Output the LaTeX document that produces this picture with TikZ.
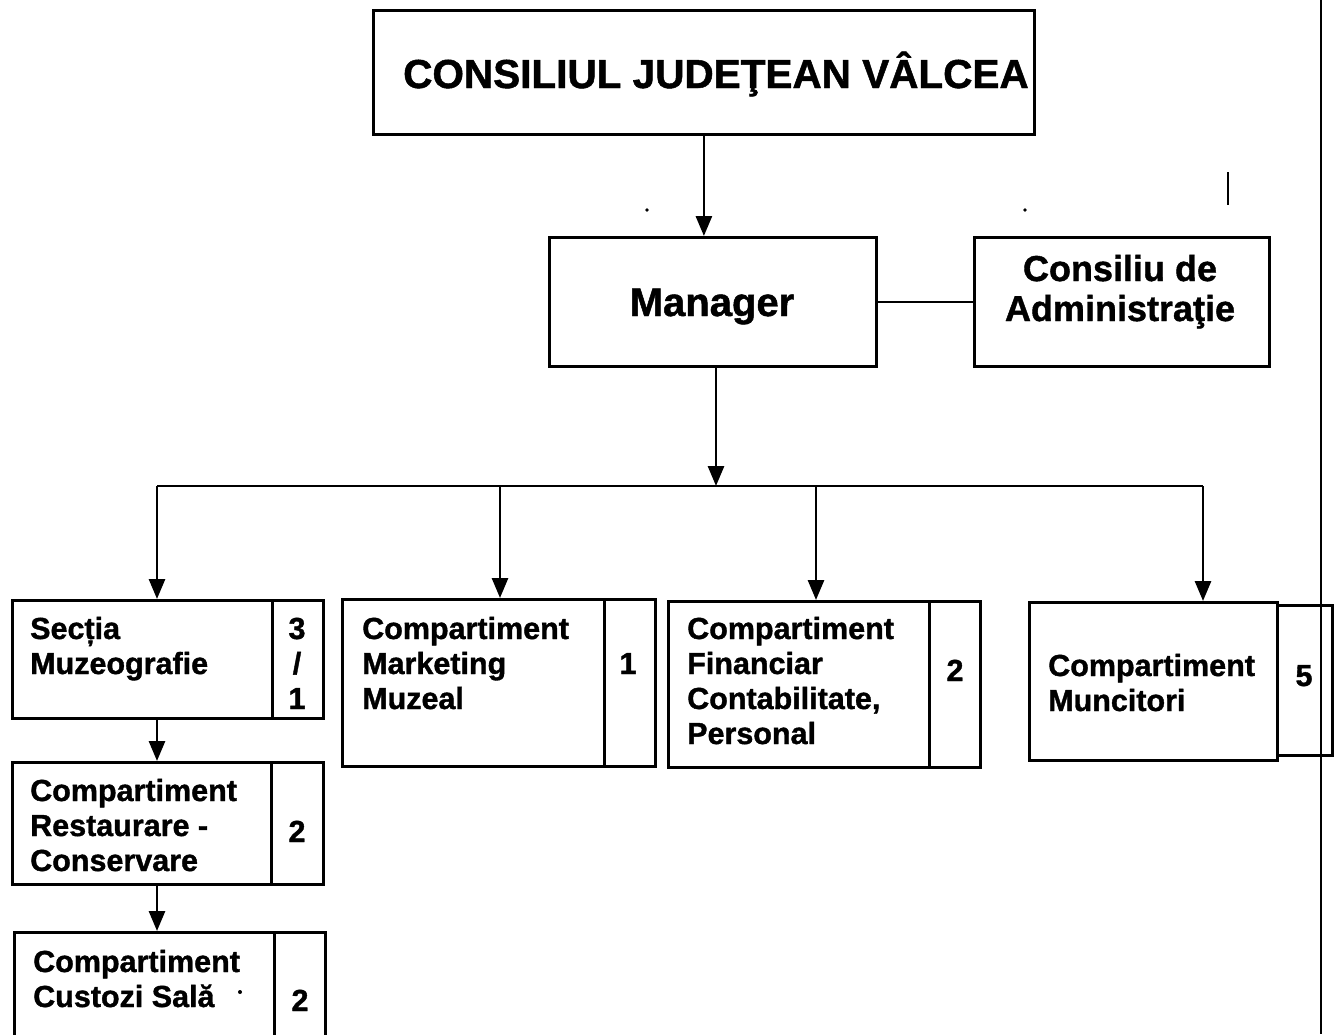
\documentclass[tikz,border=0pt]{standalone}
\usepackage{fontspec}
\setmainfont{Liberation Sans}[BoldFeatures={FakeBold=1.2}]
\usetikzlibrary{arrows.meta}
\begin{document}
\begin{tikzpicture}[x=1pt,y=-1pt,
  box/.style={draw, line width=2.8pt, inner sep=0pt, anchor=north west},
  lbl/.style={inner sep=0pt, font=\bfseries\fontsize{30.5}{35}\selectfont, align=left, anchor=base west},
  num/.style={inner sep=0pt, font=\bfseries\fontsize{30.5}{35}\selectfont, align=center, anchor=base},
  arr/.style={line width=2.8pt, -{Triangle[length=20pt,width=16pt]}},
  ln/.style={line width=2.8pt},
  junk/.style={line width=2pt}]
\clip (0,0) rectangle (1337,1034);
\fill[white] (0,0) rectangle (1337,1034);

% boxes
\node[box, minimum width=661pt, minimum height=124pt] (top) at (372,9) {};
\node[box, minimum width=327pt, minimum height=129pt] (mgr) at (548,236) {};
\node[box, minimum width=295pt, minimum height=129pt] (cons) at (973,236) {};
\node[box, minimum width=260pt, minimum height=118pt] (sec) at (11,599) {};
\node[box, minimum width=51pt, minimum height=118pt] (secn) at (271,599) {};
\node[box, minimum width=259pt, minimum height=122pt] (res) at (11,761) {};
\node[box, minimum width=52pt, minimum height=122pt] (resn) at (270,761) {};
\node[box, minimum width=260pt, minimum height=120pt] (cus) at (13,931) {};
\node[box, minimum width=51pt, minimum height=120pt] (cusn) at (273,931) {};
\node[box, minimum width=262pt, minimum height=167pt] (mkt) at (341,598) {};
\node[box, minimum width=51pt, minimum height=167pt] (mktn) at (603,598) {};
\node[box, minimum width=261pt, minimum height=166pt] (fin) at (667,600) {};
\node[box, minimum width=51pt, minimum height=166pt] (finn) at (928,600) {};
\node[box, minimum width=248pt, minimum height=158pt] (mun) at (1028,601) {};
\node[box, minimum width=55pt, minimum height=150pt] (munn) at (1276,604) {};

% texts (base anchor = baseline of last line)
\node[inner sep=0pt, anchor=base, font=\bfseries\fontsize{40.5}{44}\selectfont] (ttop) at (716,88) {CONSILIUL JUDEŢEAN VÂLCEA};
\node[inner sep=0pt, anchor=base, font=\bfseries\fontsize{40}{44}\selectfont] (tmgr) at (712,316) {Manager};
\node[inner sep=0pt, anchor=base, align=center, font=\bfseries\fontsize{36}{40}\selectfont] (tcons) at (1120,321) {Consiliu de\\Administraţie};
\node[lbl] (tsec) at (30,674) {Secția\\Muzeografie};
\node[num] (nsec) at (297,709) {3\\/\\1};
\node[lbl] (tres) at (30,871) {Compartiment\\Restaurare -\\Conservare};
\node[num] (nres) at (297,842) {2};
\node[lbl] (tcus) at (33,1007) {Compartiment\\Custozi Sală};
\node[num] (ncus) at (300,1011) {2};
\node[lbl] (tmkt) at (362,709) {Compartiment\\Marketing\\Muzeal};
\node[num] (nmkt) at (628,674) {1};
\node[lbl] (tfin) at (687,744) {Compartiment\\Financiar\\Contabilitate,\\Personal};
\node[num] (nfin) at (955,681) {2};
\node[lbl] (tmun) at (1048,711) {Compartiment\\Muncitori};
\node[num] (nmun) at (1304,686) {5};

% connectors
\coordinate (busC) at (716,486);
\coordinate (busL) at (157,486);
\coordinate (busM1) at (500,486);
\coordinate (busM2) at (816,486);
\coordinate (busR) at (1203,486);
\draw[arr] (top.south) -- (mgr.north -| top.south);
\draw[ln] (mgr.east) -- (cons.west);
\draw[arr] (mgr.south -| busC) -- (busC);
\draw[ln] (busL) -- (busR);
\draw[arr] (busL) -- (sec.north -| busL);
\draw[arr] (busM1) -- (mkt.north -| busM1);
\draw[arr] (busM2) -- (fin.north -| busM2);
\draw[arr] (busR) -- (mun.north -| busR);
\draw[arr] (sec.south -| busL) -- (res.north -| busL);
\draw[arr] (res.south -| busL) -- (cus.north -| busL);

% scan marks
\draw[junk] (1321,0) -- (1321,1034);
\draw[junk] (1228,172) -- (1228,205);
\fill (647,210) circle (1.8pt);
\fill (1025,210) circle (1.8pt);
\fill (240,992) circle (2pt);
\end{tikzpicture}
\end{document}
